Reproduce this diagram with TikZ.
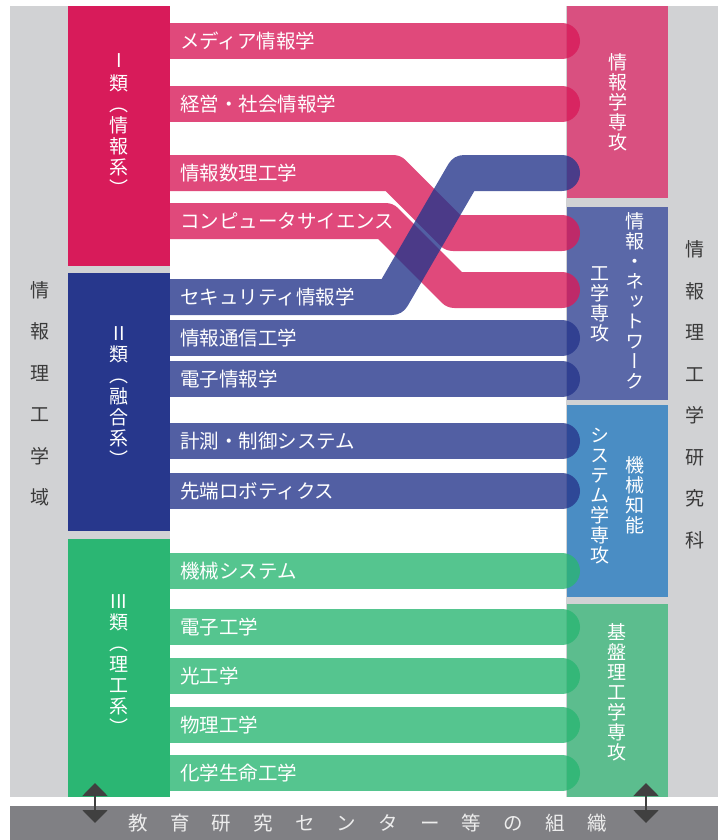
\documentclass[tikz,border=0pt]{standalone}
\usepackage{fontspec}
\setmainfont{Noto Sans CJK JP}
\newfontfamily\vjp[RawFeature=+vert]{Noto Sans CJK JP}
\usetikzlibrary{arrows.meta}
\definecolor{bggray}{HTML}{D1D2D4}
\definecolor{cI}{HTML}{D81B5A}
\definecolor{cII}{HTML}{27378C}
\definecolor{cIII}{HTML}{2BB673}
\definecolor{rI}{HTML}{D95080}
\definecolor{rII}{HTML}{5A68A8}
\definecolor{rIII}{HTML}{4A8DC4}
\definecolor{rIV}{HTML}{5CBD8E}
\definecolor{barGray}{HTML}{808084}
\definecolor{arrowGray}{HTML}{404040}
\definecolor{txtGray}{HTML}{3A3A3A}
\begin{document}
\begin{tikzpicture}[x=1pt,y=-1pt,
  band/.style={line width=36pt, line cap=round, line join=round, draw opacity=0.8},
  lab/.style={anchor=west, inner sep=0pt, text=white, font=\fontsize{19.5}{20}\selectfont, text height=17pt, text depth=2.5pt},
  vlabL/.style={align=center, inner sep=0pt, text=white, font=\vjp\fontsize{19}{21}\selectfont},
  vlabR/.style={align=center, inner sep=0pt, text=white, font=\vjp\fontsize{19}{20}\selectfont},
  gtxt/.style={align=center, inner sep=0pt, text=txtGray, font=\vjp\fontsize{19}{41.5}\selectfont},
  btxt/.style={inner sep=0pt, text=white!93!black, font=\fontsize{19.5}{20}\selectfont},
  darr/.style={{Triangle[width=25pt,length=13pt]}-{Triangle[width=25pt,length=13pt]}, line width=2pt, draw=arrowGray, fill=arrowGray}]
\useasboundingbox (0,0) rectangle (718,840);
% gray backgrounds
\fill[bggray] (10,6) rectangle (170,797);
\fill[bggray] (566,6) rectangle (718,797);
\fill[barGray] (10,806) rectangle (718,840);
% right blocks
\fill[rI] (567,6) rectangle (668,198);
\fill[rII] (567,207) rectangle (668,400);
\fill[rIII] (567,405) rectangle (668,597);
\fill[rIV] (567,604) rectangle (668,797);
% pink bands
\draw[band, draw=cI] (170,41) -- (562,41);
\draw[band, draw=cI] (170,104) -- (562,104);
\draw[band, draw=cI] (170,173) -- (393,173) -- (453,233) -- (562,233);
\draw[band, draw=cI] (170,221) -- (385.5,221) -- (454.5,290) -- (562,290);
% blue bands
\draw[band, draw=cII] (170,297) -- (392,297) -- (464,173) -- (562,173);
\draw[band, draw=cII] (170,338) -- (562,338);
\draw[band, draw=cII] (170,379) -- (562,379);
\draw[band, draw=cII] (170,441) -- (562,441);
\draw[band, draw=cII] (170,491) -- (562,491);
% green bands
\draw[band, draw=cIII] (170,571) -- (562,571);
\draw[band, draw=cIII] (170,627) -- (562,627);
\draw[band, draw=cIII] (170,676) -- (562,676);
\draw[band, draw=cIII] (170,725) -- (562,725);
\draw[band, draw=cIII] (170,773) -- (562,773);
% left blocks
\fill[cI] (68,6) rectangle (170,266);
\fill[cII] (68,273) rectangle (170,531);
\fill[cIII] (68,539) rectangle (170,797);
% band labels
\node[lab] (b1) at (180,41) {メディア情報学};
\node[lab] (b2) at (180,104) {経営・社会情報学};
\node[lab] (b3) at (180,173) {情報数理工学};
\node[lab] (b4) at (180,221) {コンピュータサイエンス};
\node[lab] (b5) at (180,297) {セキュリティ情報学};
\node[lab] (b6) at (180,338) {情報通信工学};
\node[lab] (b7) at (180,379) {電子情報学};
\node[lab] (b8) at (180,441) {計測・制御システム};
\node[lab] (b9) at (180,491) {先端ロボティクス};
\node[lab] (b10) at (180,571) {機械システム};
\node[lab] (b11) at (180,627) {電子工学};
\node[lab] (b12) at (180,676) {光工学};
\node[lab] (b13) at (180,725) {物理工学};
\node[lab] (b14) at (180,773) {化学生命工学};
% left block labels
\node[vlabL] (gI) at (119,125) {I\\[2pt]類\\（\\情\\報\\系\\）};
\node[vlabL] (gII) at (119,397) {II\\類\\（\\融\\合\\系\\）};
\node[vlabL] (gIII) at (119,665) {III\\類\\（\\理\\工\\系\\）};
% right block labels
\node[vlabR] (m1) at (618,102) {情\\報\\学\\専\\攻};
\node[vlabR] (m2a) at (635,301) {情\\報\\・\\ネ\\ッ\\ト\\ワ\\ー\\ク};
\node[vlabR] (m2b) at (600,304) {工\\学\\専\\攻};
\node[vlabR] (m3a) at (635,495) {機\\械\\知\\能};
\node[vlabR] (m3b) at (600,496) {シ\\ス\\テ\\ム\\学\\専\\攻};
\node[vlabR] (m4) at (617,692) {基\\盤\\理\\工\\学\\専\\攻};
% gray column labels
\node[gtxt] (gl) at (40,394) {情\\報\\理\\工\\学\\域};
\node[gtxt] (gr) at (695,395) {情\\報\\理\\工\\学\\研\\究\\科};
% bottom bar label
\node[btxt] (bar) at (367.5,823) {教\kern22.2pt 育\kern22.2pt 研\kern22.2pt 究\kern22.2pt セ\kern22.2pt ン\kern22.2pt タ\kern22.2pt ー\kern22.2pt 等\kern22.2pt の\kern22.2pt 組\kern22.2pt 織};
% arrows
\coordinate (a1t) at (95,783);
\coordinate (a1b) at (95,823);
\coordinate (a2t) at (646,783);
\coordinate (a2b) at (646,823);
\draw[darr] (a1t) -- (a1b);
\draw[darr] (a2t) -- (a2b);
\end{tikzpicture}
\end{document}
